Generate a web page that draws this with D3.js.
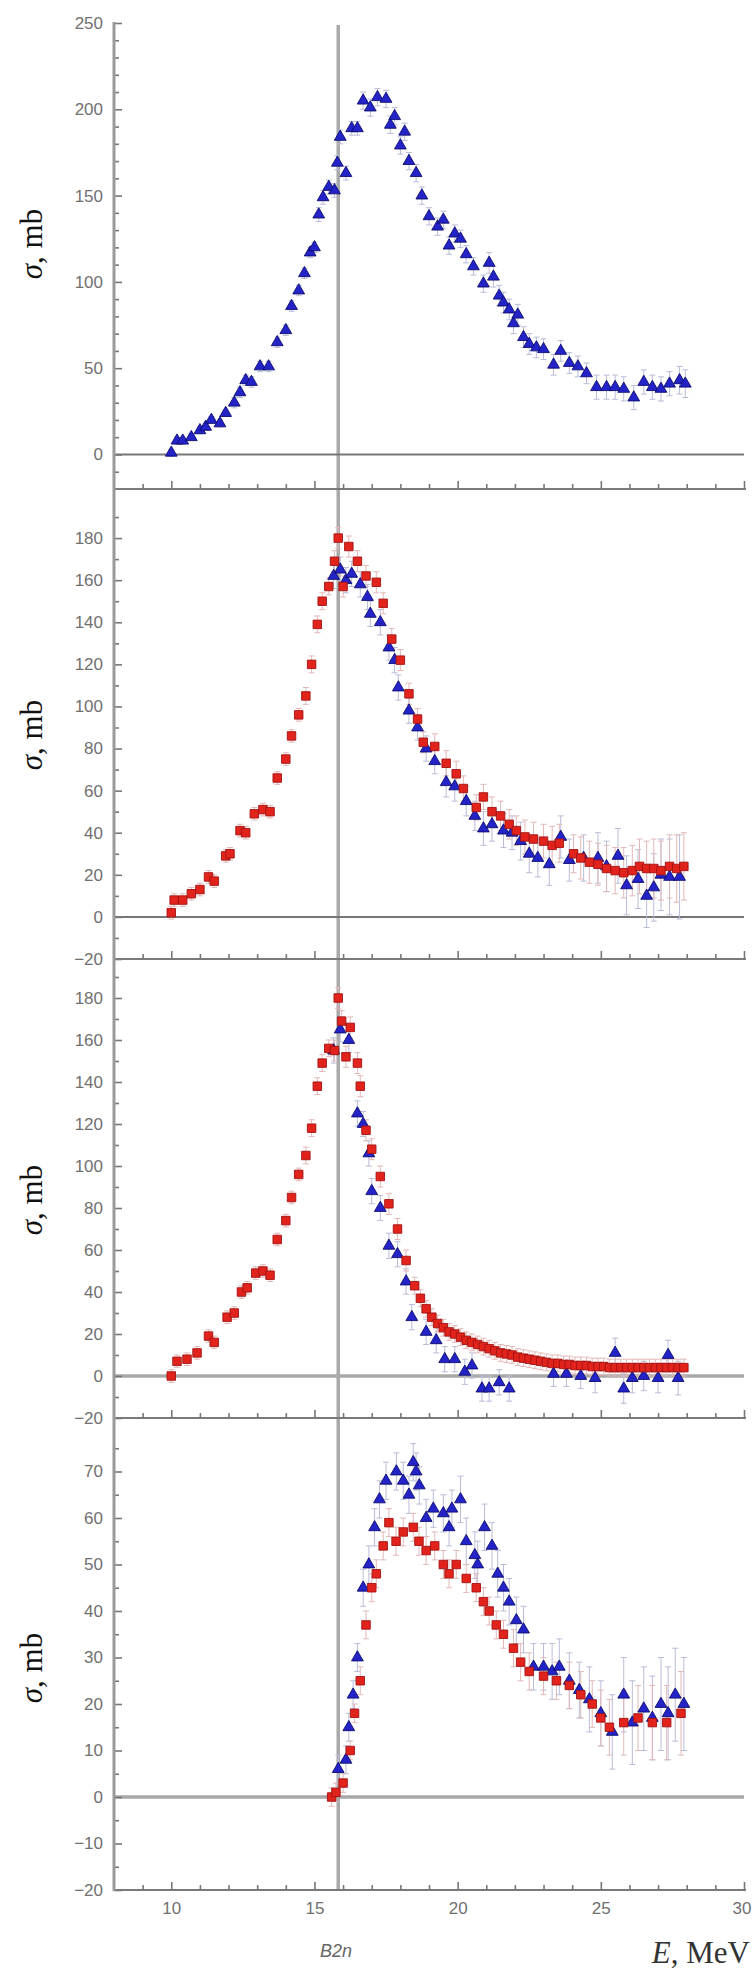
<!DOCTYPE html>
<html><head><meta charset="utf-8">
<script src="https://cdn.jsdelivr.net/npm/d3@7"></script>
<style>body{margin:0;background:#fff}svg{display:block}</style>
</head><body>
<svg id="chart" width="752" height="1971"></svg>
<script>
// ---------- axes / ticks ----------
const xDomain = [8, 30];
const xMajorTicks = [10, 15, 20, 25, 30];
const xMinorTicks = [9, 11, 12, 13, 14, 16, 17, 18, 19, 21, 22, 23, 24, 26, 27, 28, 29];
const B2n = 15.83;

const p1Domain = [-20, 250], p1Labels = [0, 50, 100, 150, 200, 250], p1Minor = [-10,10,20,30,40,60,70,80,90,110,120,130,140,160,170,180,190,210,220,230,240];
const p2Domain = [-20, 200], p2Labels = [-20, 0, 20, 40, 60, 80, 100, 120, 140, 160, 180], p2Minor = [-10,10,30,50,70,90,110,130,150,170,190];
const p3Domain = [-20, 200], p3Labels = [-20, 0, 20, 40, 60, 80, 100, 120, 140, 160, 180], p3Minor = [-10,10,30,50,70,90,110,130,150,170,190];
const p4Domain = [-20, 80], p4Labels = [-20, -10, 0, 10, 20, 30, 40, 50, 60, 70], p4Minor = [-15,-5,5,15,25,35,45,55,65,75];

// ---------- data: [E (MeV), sigma (mb), error (mb)] ----------
const p1Blue = [[10.0,1,2],[10.2,8,2],[10.4,8,2],[10.7,10,2],[11.0,14,2],[11.2,16,2],[11.4,20,2],[11.7,18,2],[11.9,24,2],[12.2,30,3],[12.4,36,3],[12.6,43,3],[12.8,42,3],[13.1,51,3],[13.4,51,3],[13.7,65,3],[14.0,72,3],[14.2,86,3],[14.45,95,3],[14.65,105,3],[14.85,117,3],[15.0,120,3],[15.15,139,4],[15.3,149,4],[15.5,155,4],[15.7,153,4],[15.8,169,4],[15.9,184,4],[16.1,163,4],[16.3,189,4],[16.5,189,4],[16.7,205,5],[16.95,201,5],[17.2,207,5],[17.5,206,5],[17.65,191,5],[17.8,196,5],[18.0,179,5],[18.15,187,5],[18.3,170,5],[18.55,163,5],[18.75,150,5],[19.0,138,5],[19.3,132,5],[19.5,136,5],[19.7,121,5],[19.9,128,5],[20.1,125,5],[20.3,116,5],[20.55,109,5],[20.9,99,5],[21.1,111,6],[21.25,103,6],[21.45,92,6],[21.6,88,6],[21.8,84,6],[21.95,76,6],[22.1,81,6],[22.3,68,6],[22.5,64,6],[22.75,62,6],[23.0,61,6],[23.35,52,6],[23.6,60,6],[23.9,53,6],[24.2,51,6],[24.5,47,6],[24.85,39,7],[25.2,39,7],[25.5,39,7],[25.8,38,7],[26.15,33,7],[26.5,42,7],[26.8,39,7],[27.1,38,7],[27.4,41,7],[27.75,43,8],[27.95,41,8]];

const p2Red = [[10.0,2,3],[10.1,8,3],[10.4,8,3],[10.7,11,3],[11.0,13,3],[11.3,19,3],[11.5,17,3],[11.9,29,3],[12.05,30,3],[12.4,41,3],[12.6,40,3],[12.9,49,3],[13.2,51,3],[13.45,50,3],[13.7,66,3],[14.0,75,3],[14.2,86,3],[14.45,96,3],[14.7,105,4],[14.9,120,4],[15.1,139,4],[15.27,150,4],[15.5,157,4],[15.7,169,5],[15.83,180,5],[16.0,157,5],[16.2,176,5],[16.5,169,5],[16.8,162,5],[17.16,159,5],[17.4,149,5],[17.7,132,5],[18.0,122,5],[18.3,106,5],[18.6,94,5],[18.8,83,5],[19.2,81,6],[19.6,73,6],[19.95,68,6],[20.2,61,6],[20.65,52,6],[20.9,57,6],[21.2,50,7],[21.5,48,7],[21.8,44,7],[22.05,41,7],[22.35,38,8],[22.65,37,8],[23.0,36,8],[23.3,34,9],[23.55,35,9],[24.05,30,9],[24.3,28,10],[24.6,26,10],[24.9,25,10],[25.2,23,11],[25.5,22,11],[25.8,21,12],[26.1,22,12],[26.35,24,13],[26.6,23,13],[26.85,23,14],[27.1,22,14],[27.4,24,15],[27.65,23,16],[27.9,24,16]];
const p2Blue = [[15.67,162,6],[15.9,165,6],[16.1,160,6],[16.3,163,6],[16.6,158,6],[16.85,152,6],[16.95,144,6],[17.3,140,6],[17.6,128,6],[17.8,122,6],[17.93,109,6],[18.3,98,6],[18.6,90,6],[18.9,80,6],[19.2,74,6],[19.6,64,7],[19.9,62,7],[20.3,55,7],[20.6,48,7],[20.9,42,8],[21.2,44,8],[21.6,41,8],[21.9,40,8],[22.2,36,9],[22.5,30,9],[22.8,28,9],[23.2,25,10],[23.6,38,10],[23.9,27,10],[24.4,28,11],[24.9,28,12],[25.2,24,12],[25.6,29,13],[25.9,15,14],[26.3,18,14],[26.6,10,15],[26.85,14,16],[27.1,20,17],[27.4,19,18],[27.75,19,20]];

const p3Red = [[10.0,0,3],[10.2,7,3],[10.55,8,3],[10.9,11,3],[11.3,19,3],[11.5,16,3],[11.95,28,3],[12.2,30,3],[12.45,40,3],[12.65,42,3],[12.95,49,3],[13.2,50,3],[13.45,48,3],[13.7,65,3],[14.0,74,3],[14.2,85,3],[14.45,96,3],[14.7,105,4],[14.9,118,4],[15.1,138,4],[15.27,149,4],[15.5,156,4],[15.7,155,5],[15.83,180,5],[15.95,169,5],[16.1,152,5],[16.25,166,5],[16.5,149,5],[16.6,138,5],[16.8,117,5],[17.0,108,5],[17.3,95,5],[17.6,82,5],[17.9,70,5],[18.2,55,5],[18.5,43,4],[18.7,37,4],[18.9,32,4],[19.1,28,4],[19.3,25,4],[19.5,23,4],[19.7,21,4],[19.9,20,4],[20.1,18.5,4],[20.3,17,4],[20.5,16,4],[20.7,15,4],[20.9,14,4],[21.1,13,4],[21.3,12,4],[21.5,11,4],[21.7,10.5,4],[21.9,10,4],[22.1,9,4],[22.3,8.5,4],[22.5,8,4],[22.7,7.5,4],[22.9,7,4],[23.1,6.5,4],[23.3,6,4],[23.5,6,4],[23.7,5.5,4],[23.9,5.5,4],[24.1,5,4],[24.3,5,4],[24.5,5,4],[24.7,4.5,4],[24.9,4.5,4],[25.1,4.5,4],[25.3,4,4],[25.5,4,4],[25.7,4,4],[25.9,4,4],[26.1,4,4],[26.3,4,4],[26.5,4,4],[26.7,4,4],[26.9,4,4],[27.1,4,4],[27.3,4,4],[27.5,4,4],[27.7,4,4],[27.9,4,4]];
const p3Blue = [[15.67,155,6],[15.9,165,6],[16.2,160,6],[16.5,125,6],[16.7,120,6],[16.9,106,6],[17.0,88,6],[17.3,80,6],[17.6,62,6],[17.9,58,6],[18.2,45,6],[18.4,28,6],[18.9,21,6],[19.25,17,6],[19.55,8,6],[19.9,8,6],[20.25,2,6],[20.5,5,6],[20.85,-6,6],[21.1,-6,6],[21.45,-3,6],[21.8,-6,6],[23.35,1,6],[23.8,1,6],[24.3,0,6],[24.8,-1,7],[25.5,11,7],[25.8,-6,7],[26.1,-1,7],[26.5,0,7],[27.0,-1,7],[27.35,10,7],[27.7,-1,8]];

const p4Red = [[15.6,0,2],[15.75,1,2],[16.0,3,2],[16.25,10,2],[16.4,18,2],[16.6,25,3],[16.8,37,3],[17.0,45,3],[17.16,48,3],[17.4,54,3],[17.6,59,3],[17.85,55,3],[18.1,57,3],[18.45,58,3],[18.65,55,3],[18.9,53,3],[19.2,54,3],[19.5,50,3],[19.7,48,3],[19.95,50,3],[20.3,47,3],[20.65,45,3],[20.9,42,3],[21.1,40,3],[21.35,37,3],[21.6,35,3],[21.95,32,4],[22.2,29,4],[22.5,27,4],[23.0,26,4],[23.45,25,4],[23.9,24,5],[24.3,22,5],[24.7,20,5],[25.0,17,6],[25.3,15,6],[25.8,16,7],[26.3,17,7],[26.8,16,8],[27.3,16,8],[27.8,18,9]];
const p4Blue = [[15.83,6,3],[16.1,8,3],[16.2,15,3],[16.35,22,3],[16.5,30,3],[16.7,45,4],[16.9,50,4],[17.1,58,4],[17.27,64,4],[17.5,68,4],[17.86,70,4],[18.1,68,4],[18.3,65,4],[18.45,72,4],[18.55,70,4],[18.66,67,4],[18.9,60,4],[19.15,62,4],[19.5,61,4],[19.7,58,4],[19.8,62,4],[20.1,64,5],[20.3,55,5],[20.6,52,5],[20.7,50,5],[20.94,58,5],[21.2,54,5],[21.4,48,5],[21.6,45,5],[21.8,42,5],[22.05,38,5],[22.3,36,5],[22.65,28,5],[23.0,28,5],[23.3,27,6],[23.55,28,6],[23.9,25,6],[24.25,23,6],[24.6,21,7],[25.0,18,7],[25.4,14,8],[25.8,22,8],[26.1,16,9],[26.5,19,9],[26.8,17,9],[27.1,20,10],[27.35,18,10],[27.6,22,10],[27.9,20,10]];

// ---------- layout ----------
const svg = d3.select('#chart');
const AX = 114;
const x = d3.scaleLinear().domain(xDomain).range([AX, 744]);
const panels = [
  {dom: p1Domain, range: [489, 23],  labels: p1Labels, minor: p1Minor, series: [p1Blue], colors: ['blue'], titleY: 244, zeroColor: '#777', zeroW: 2},
  {dom: p2Domain, range: [959, 496], labels: p2Labels, minor: p2Minor, series: [p2Blue, p2Red], colors: ['blue','red'], titleY: 735, zeroColor: '#777', zeroW: 2},
  {dom: p3Domain, range: [1418, 956], labels: p3Labels, minor: p3Minor, series: [p3Blue, p3Red], colors: ['blue','red'], titleY: 1200, zeroColor: '#a8a8a8', zeroW: 3.5},
  {dom: p4Domain, range: [1890, 1425], labels: p4Labels, minor: p4Minor, series: [p4Blue, p4Red], colors: ['blue','red'], titleY: 1668, zeroColor: '#a8a8a8', zeroW: 3.5}
];
const tickFont = '"Liberation Sans", Arial, sans-serif';
const serif = '"Liberation Serif", "Times New Roman", serif';

// vertical B2n line
svg.append('line').attr('x1', x(B2n)).attr('x2', x(B2n)).attr('y1', 25).attr('y2', 1890)
  .attr('stroke', '#a9a9a9').attr('stroke-width', 3.5);

panels.forEach((p, i) => {
  const y = d3.scaleLinear().domain(p.dom).range(p.range);
  const g = svg.append('g');
  // zero line
  g.append('line').attr('x1', AX).attr('x2', 744).attr('y1', y(0)).attr('y2', y(0))
    .attr('stroke', p.zeroColor).attr('stroke-width', p.zeroW);
  // y ticks
  const yMaj = g.append('g').attr('transform', `translate(${AX},0)`)
    .call(d3.axisLeft(y).tickValues(p.labels).tickSizeInner(-8).tickSizeOuter(0).tickPadding(11).tickFormat(d3.format('d')));
  yMaj.select('.domain').remove();
  yMaj.selectAll('line').attr('stroke', '#777').attr('stroke-width', 1.6);
  yMaj.selectAll('text').attr('font-family', tickFont).attr('font-size', 17).attr('fill', '#707070');
  const yMin = g.append('g').attr('transform', `translate(${AX},0)`)
    .call(d3.axisLeft(y).tickValues(p.minor).tickSizeInner(-5).tickSizeOuter(0).tickFormat(''));
  yMin.select('.domain').remove();
  yMin.selectAll('line').attr('stroke', '#777').attr('stroke-width', 1.6);
  // x axis at bottom of panel
  const yb = p.range[0];
  g.append('line').attr('x1', AX).attr('x2', 746).attr('y1', yb).attr('y2', yb).attr('stroke', '#7a7a7a').attr('stroke-width', 2);
  const xMin = g.append('g').attr('transform', `translate(0,${yb})`)
    .call(d3.axisBottom(x).tickValues(xMinorTicks).tickSizeInner(-5).tickSizeOuter(0).tickFormat(''));
  xMin.select('.domain').remove();
  xMin.selectAll('line').attr('stroke', '#777').attr('stroke-width', 1.6);
  const last = i === panels.length - 1;
  const xMaj = g.append('g').attr('transform', `translate(0,${yb})`)
    .call(d3.axisBottom(x).tickValues(xMajorTicks).tickSizeInner(-8).tickSizeOuter(0).tickPadding(12).tickFormat(last ? d3.format('d') : ''));
  xMaj.select('.domain').remove();
  xMaj.selectAll('line').attr('stroke', '#777').attr('stroke-width', 1.6);
  xMaj.selectAll('text').attr('font-family', tickFont).attr('font-size', 17).attr('fill', '#707070');
  xMaj.selectAll('text').filter(d => d === 30).attr('text-anchor', 'end').attr('x', 7);

  // axis title
  const t = svg.append('text').attr('transform', `translate(42,${p.titleY}) rotate(-90)`)
    .attr('text-anchor', 'middle').attr('font-family', serif).attr('font-size', 31).attr('fill', '#111');
  t.append('tspan').attr('font-style', 'italic').text('σ');
  t.append('tspan').text(', mb');

  // error bars
  p.series.forEach((data, k) => {
    const col = p.colors[k];
    const ebColor = col === 'blue' ? '#b9bcd8' : '#e2b8b8';
    const eb = g.append('g').attr('stroke', ebColor).attr('stroke-width', 1);
    data.forEach(d => {
      const cx = x(d[0]), y1 = y(d[1] - d[2]), y2 = y(d[1] + d[2]);
      eb.append('line').attr('x1', cx).attr('x2', cx).attr('y1', y1).attr('y2', y2);
      eb.append('line').attr('x1', cx - 3).attr('x2', cx + 3).attr('y1', y1).attr('y2', y1);
      eb.append('line').attr('x1', cx - 3).attr('x2', cx + 3).attr('y1', y2).attr('y2', y2);
    });
  });
  // markers
  p.series.forEach((data, k) => {
    const col = p.colors[k];
    const sym = col === 'blue' ? d3.symbol(d3.symbolTriangle, 60) : d3.symbol(d3.symbolSquare, 72);
    g.append('g').selectAll('path').data(data).join('path')
      .attr('d', sym)
      .attr('transform', d => `translate(${x(d[0])},${y(d[1])})`)
      .attr('fill', col === 'blue' ? '#2323c8' : '#e2231c')
      .attr('stroke', col === 'blue' ? '#0c0c6e' : '#a31212')
      .attr('stroke-width', 0.9);
  });
});

// continuous y axis line
svg.append('line').attr('x1', AX).attr('x2', AX).attr('y1', 22).attr('y2', 1891)
  .attr('stroke', '#9a9a9a').attr('stroke-width', 3);

// bottom labels
svg.append('text').attr('x', 336).attr('y', 1957).attr('text-anchor', 'middle')
  .attr('font-family', tickFont).attr('font-style', 'italic').attr('font-size', 18).attr('fill', '#666').text('B2n');
const el = svg.append('text').attr('x', 750).attr('y', 1963).attr('text-anchor', 'end')
  .attr('font-family', serif).attr('font-size', 31).attr('fill', '#333');
el.append('tspan').attr('font-style', 'italic').text('E');
el.append('tspan').text(', MeV');
</script>
</body></html>
